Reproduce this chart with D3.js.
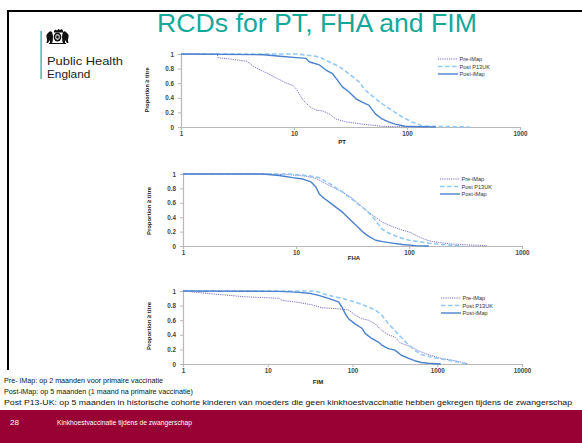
<!DOCTYPE html>
<html><head><meta charset="utf-8">
<script src="https://cdn.jsdelivr.net/npm/d3@7"></script>
<style>
html,body{margin:0;padding:0;background:#fff;}
svg{display:block;font-family:"Liberation Sans",Arial,sans-serif;}
</style></head>
<body>
<script>
// ---------- data ----------
const titleText = "RCDs for PT, FHA and FIM";
const seriesNames = ["Pre-iMap", "Post P13UK", "Post-iMap"];
const panelNames = ["PT", "FHA", "FIM"];
const yTicks = [0, 0.2, 0.4, 0.6, 0.8, 1];
const xTicksPT = [1, 10, 100, 1000];
const xTicksFHA = [1, 10, 100, 1000];
const xTicksFIM = [1, 10, 100, 1000, 10000];

const ptPre = [[1,1],[2.1,1],[2.12,0.95],[2.74,0.93],[3.83,0.9],[4.38,0.83],[5.36,0.76],[7.0,0.67],[8.57,0.6],[9.8,0.57],[10.5,0.52],[12,0.37],[13.7,0.28],[15.7,0.23],[17.9,0.22],[20.5,0.18],[23.5,0.11],[28.7,0.07],[40,0.04],[60,0.01],[78,0.005],[150,0]];
const ptP13 = [[1,1],[10.5,1],[13.7,0.98],[16.8,0.96],[20.5,0.89],[25,0.83],[30.7,0.73],[37.5,0.62],[43,0.5],[52.5,0.39],[60,0.32],[73.5,0.23],[90,0.14],[110,0.07],[134,0.02],[154,0.01],[360,0]];
const ptPost = [[1,1],[5.4,0.99],[7.5,0.97],[10.5,0.95],[12.8,0.94],[13.7,0.89],[16.8,0.85],[19.2,0.78],[21.9,0.73],[23.5,0.67],[26.8,0.55],[30.7,0.48],[35.1,0.39],[40,0.34],[45.9,0.3],[52.5,0.18],[60,0.11],[68.7,0.07],[78.5,0.04],[96,0.01],[126,0.005],[180,0]];

const fhaPre = [[1,1],[5,1],[8.7,0.99],[12.3,0.97],[15,0.94],[19.7,0.84],[25.8,0.75],[31.6,0.66],[38.7,0.54],[47.5,0.43],[58.2,0.33],[71.2,0.27],[87.3,0.22],[102,0.19],[125,0.12],[145,0.08],[163,0.06],[230,0.03],[325,0.015],[490,0.005]];
const fhaP13 = [[1,1],[8.7,1],[12.3,0.98],[16,0.95],[19.7,0.87],[25.8,0.75],[33.8,0.61],[41.5,0.5],[47.5,0.41],[52.5,0.32],[58.2,0.23],[66,0.18],[81,0.12],[100,0.08],[122,0.06],[149,0.04],[190,0.02],[250,0.01],[300,0]];
const fhaPost = [[1,1],[5.1,1],[7.1,0.98],[9.3,0.95],[11.5,0.93],[13.6,0.89],[15,0.82],[16.1,0.72],[17.8,0.66],[19.7,0.61],[22.5,0.54],[25.8,0.47],[29.5,0.38],[33.8,0.29],[38.7,0.2],[44.4,0.13],[50.8,0.08],[58.2,0.06],[71.2,0.04],[87.3,0.02],[114,0.005],[150,0]];

const fimPre = [[1,1],[2.25,0.96],[3.5,0.94],[5.5,0.92],[8.7,0.91],[13.6,0.9],[14.9,0.87],[21.3,0.85],[33.4,0.81],[43.7,0.77],[62.6,0.76],[89.8,0.74],[107,0.67],[129,0.62],[154,0.6],[185,0.55],[221,0.46],[265,0.4],[316,0.37],[365,0.29],[480,0.24],[630,0.17],[825,0.12],[1080,0.08],[1420,0.055],[1870,0.03],[2300,0]];
const fimP13 = [[1,1],[36.6,1],[52,0.94],[75,0.9],[107,0.85],[154,0.78],[185,0.74],[221,0.67],[265,0.55],[316,0.46],[378,0.36],[452,0.27],[540,0.19],[650,0.13],[825,0.1],[1080,0.07],[1420,0.05],[1870,0.02],[2300,0]];
const fimPost = [[1,1],[13.6,0.995],[21.3,0.985],[30.5,0.97],[40,0.94],[52,0.9],[68.5,0.85],[75,0.78],[82,0.69],[89.8,0.62],[107,0.55],[129,0.49],[141,0.42],[168,0.35],[202,0.3],[221,0.26],[265,0.21],[316,0.19],[378,0.12],[452,0.08],[540,0.045],[650,0.02],[780,0.01],[1100,0]];

const notes = [
  "Pre- iMap: op 2 maanden  voor primaire vaccinatie",
  "Post-iMap: op 5 maanden (1 maand  na primaire vaccinatie)",
  "Post P13-UK: op 5 maanden in historische cohorte  kinderen van moeders die geen kinkhoestvaccinatie hebben gekregen tijdens de zwangerschap"
];
const footerNum = "28";
const footerText = "Kinkhoestvaccinatie  tijdens de zwangerschap";

// ---------- drawing ----------
const W = 582, H = 443;
const svg = d3.select("body").append("svg").attr("width", W).attr("height", H);

// slide frame
svg.append("rect").attr("x", 7).attr("y", 10).attr("width", W - 7).attr("height", 2).attr("fill", "#000");
svg.append("rect").attr("x", 7).attr("y", 10).attr("width", 2).attr("height", 360).attr("fill", "#000");

// title
svg.append("text").attr("x", 157).attr("y", 32).attr("font-size", 26).attr("fill", "#14a89b")
  .attr("textLength", 320).attr("lengthAdjust", "spacingAndGlyphs").text(titleText);

// logo
svg.append("rect").attr("x", 40.5).attr("y", 31).attr("width", 1.2).attr("height", 48).attr("fill", "#14a89b");
const crest = svg.append("g").attr("fill", "#111");
crest.append("path").attr("d", "M54,31 l1.5,-1.5 l1.5,1 l1.5,-1.5 l1.5,1 l1.5,-1 l1.5,1.5 l0,2 l-9,0 z");
crest.append("ellipse").attr("cx", 57.5).attr("cy", 37).attr("rx", 3.8).attr("ry", 4.5);
crest.append("ellipse").attr("cx", 57.5).attr("cy", 37).attr("rx", 2.2).attr("ry", 2.8).attr("fill", "#fff");
crest.append("path").attr("d", "M56.3,35.5 h2.4 v3 h-2.4 z").attr("fill", "#111");
crest.append("path").attr("d", "M48,33 q2,-3 4,-1 q1,3 1,5 q0,4 -1,6 l-2,0 l0,-3 l-2,3 l-1.5,0 q1,-4 0,-6 q-1,-2 1.5,-4 z");
crest.append("path").attr("d", "M67,33 q-2,-3 -4,-1 q-1,3 -1,5 q0,4 1,6 l2,0 l0,-3 l2,3 l1.5,0 q-1,-4 0,-6 q1,-2 -1.5,-4 z");
crest.append("path").attr("d", "M49,43 h17 v1 h-17 z");
svg.append("text").attr("x", 47).attr("y", 65).attr("font-size", 11.8).attr("fill", "#222")
  .attr("textLength", 76).attr("lengthAdjust", "spacingAndGlyphs").text("Public Health");
svg.append("text").attr("x", 47).attr("y", 78).attr("font-size", 11.8).attr("fill", "#222").text("England");

const colors = {pre: "#7b6cc9", p13: "#93c9f7", post: "#4a80cc"};
const styles = [
  {key: "pre", dash: "1.2,1", width: 1},
  {key: "p13", dash: "4.5,2.5", width: 1.6},
  {key: "post", dash: null, width: 1.4}
];

const panels = [
  {name: panelNames[0], data: [ptPre, ptP13, ptPost], ticks: xTicksPT, x0: 181, x1: 520, yTop: 54, yBot: 127,
   xLabel: [342, 144], yTitle: [149, 90, 45], legend: [438, 59]},
  {name: panelNames[1], data: [fhaPre, fhaP13, fhaPost], ticks: xTicksFHA, x0: 183, x1: 522, yTop: 174, yBot: 246,
   xLabel: [354, 260], yTitle: [151, 211, 48], legend: [440, 179]},
  {name: panelNames[2], data: [fimPre, fimP13, fimPost], ticks: xTicksFIM, x0: 183, x1: 522, yTop: 291, yBot: 364,
   xLabel: [318, 384], yTitle: [151, 326, 48], legend: [441, 298]}
];

panels.forEach(p => {
  const x = d3.scaleLog().domain([p.ticks[0], p.ticks[p.ticks.length - 1]]).range([p.x0, p.x1]);
  const y = d3.scaleLinear().domain([0, 1]).range([p.yBot, p.yTop]);
  const g = svg.append("g");

  const xa = g.append("g").attr("transform", `translate(0,${p.yBot})`)
    .call(d3.axisBottom(x).tickValues(p.ticks).tickFormat(d3.format("d")).tickSize(3).tickPadding(2));
  const ya = g.append("g").attr("transform", `translate(${p.x0},0)`)
    .call(d3.axisLeft(y).tickValues(yTicks).tickFormat(d => d === 0 || d === 1 ? d3.format("d")(d) : d3.format(".1f")(d)).tickSize(3).tickPadding(4));
  [xa, ya].forEach(a => {
    a.select(".domain").attr("stroke", "#b8b8b8").attr("stroke-width", 1.2);
    a.selectAll(".tick line").attr("stroke", "#b8b8b8");
    a.selectAll("text").attr("font-size", 6.3).attr("fill", "#444").attr("font-family", "Liberation Sans, Arial, sans-serif").attr("font-weight", "bold");
  });

  g.append("text").attr("x", p.xLabel[0]).attr("y", p.xLabel[1]).attr("text-anchor", "middle")
    .attr("font-size", 6).attr("font-weight", "bold").attr("fill", "#222").text(p.name);
  g.append("text").attr("transform", `translate(${p.yTitle[0]},${p.yTitle[1]}) rotate(-90)`)
    .attr("text-anchor", "middle").attr("font-size", 6).attr("font-weight", "bold").attr("fill", "#222")
    .attr("textLength", p.yTitle[2]).attr("lengthAdjust", "spacingAndGlyphs").text("Proportion \u2265 titre");

  const line = d3.line().x(d => x(d[0])).y(d => y(d[1]));
  p.data.forEach((ser, i) => {
    const s = styles[i];
    g.append("path").datum(ser).attr("d", line).attr("fill", "none")
      .attr("stroke", colors[s.key]).attr("stroke-width", s.width)
      .attr("stroke-dasharray", s.dash).attr("stroke-linejoin", "round");
  });

  const lg = g.append("g").attr("transform", `translate(${p.legend[0]},${p.legend[1]})`);
  seriesNames.forEach((n, i) => {
    const s = styles[i];
    lg.append("line").attr("x1", 0).attr("x2", 20).attr("y1", i * 7.5).attr("y2", i * 7.5)
      .attr("stroke", colors[s.key]).attr("stroke-width", s.width).attr("stroke-dasharray", s.dash);
    lg.append("text").attr("x", 21.5).attr("y", i * 7.5 + 2).attr("font-size", 5.6).attr("fill", "#333").text(n);
  });
});

// notes
notes.forEach((t, i) => {
  const tx = svg.append("text").attr("x", 4).attr("y", 383 + i * 11).attr("font-size", 7.2).attr("fill", "#111").text(t);
  if (i === 2) tx.attr("textLength", 568).attr("lengthAdjust", "spacingAndGlyphs");
});

// footer
svg.append("rect").attr("x", 0).attr("y", 410).attr("width", W).attr("height", H - 410).attr("fill", "#990033");
svg.append("text").attr("x", 10).attr("y", 425).attr("font-size", 8).attr("fill", "#fff").text(footerNum);
svg.append("text").attr("x", 57).attr("y", 425).attr("font-size", 8).attr("fill", "#fff")
  .attr("textLength", 135).attr("lengthAdjust", "spacingAndGlyphs").text(footerText);
</script>
</body></html>
